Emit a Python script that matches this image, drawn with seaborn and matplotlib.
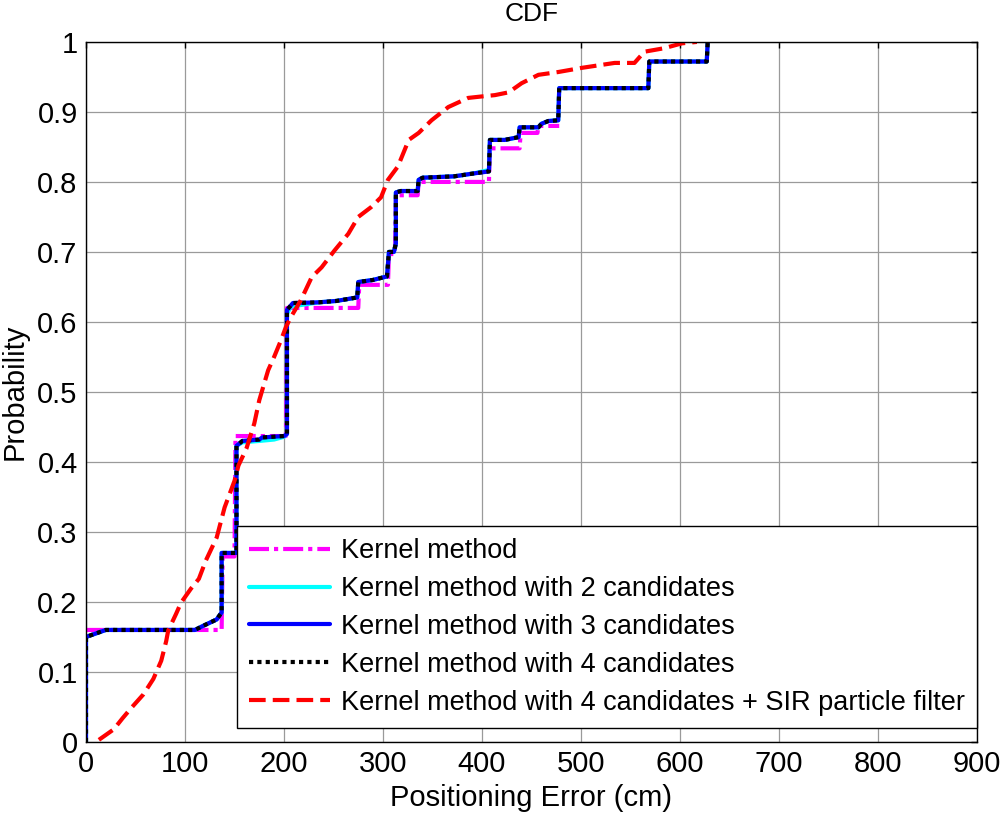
import numpy as np
import pandas as pd
import matplotlib
matplotlib.use("Agg")
import matplotlib.pyplot as plt
import seaborn as sns

# CDF vertices (error in cm, probability)
kernel_x = [0, 137, 138, 150, 151, 202, 203, 275, 276, 305, 306, 312, 313, 335, 336,
            407, 408, 438, 439, 456, 457, 478]
kernel_y = [0.16, 0.16, 0.265, 0.265, 0.437, 0.437, 0.62, 0.62, 0.653, 0.653, 0.697,
            0.697, 0.781, 0.781, 0.80, 0.80, 0.848, 0.848, 0.87, 0.87, 0.88, 0.88]

k3_x = [0, 0, 8, 20, 110, 120, 132, 137, 137, 152, 152, 158, 175, 178, 200, 203, 203,
        209, 235, 253, 274, 275, 290, 304, 306, 311, 313, 313, 318, 335, 336, 340, 372,
        391, 407, 408, 423, 437, 438, 457, 460, 467, 477, 478, 568, 569, 627, 628]
k3_y = [0, 0.15, 0.154, 0.16, 0.16, 0.167, 0.175, 0.185, 0.27, 0.27, 0.423, 0.43, 0.432,
        0.435, 0.437, 0.44, 0.617, 0.627, 0.628, 0.63, 0.635, 0.657, 0.66, 0.665, 0.70,
        0.70, 0.712, 0.785, 0.787, 0.787, 0.803, 0.806, 0.808, 0.812, 0.815, 0.86, 0.86,
        0.864, 0.878, 0.878, 0.883, 0.887, 0.888, 0.934, 0.934, 0.972, 0.972, 1.0]

k2_x = [0, 0, 8, 20, 110, 120, 132, 137, 137, 152, 152, 158, 175, 190, 200, 203, 203,
        207, 235, 253, 274, 275, 290, 304, 306, 311, 313, 313, 318, 335, 336, 340, 372,
        391, 407, 408, 423, 437, 438, 457, 460, 467, 477, 478, 568, 569, 627, 628]
k2_y = [0, 0.15, 0.154, 0.16, 0.16, 0.167, 0.175, 0.185, 0.27, 0.27, 0.423, 0.428, 0.43,
        0.432, 0.436, 0.44, 0.612, 0.622, 0.628, 0.63, 0.635, 0.657, 0.66, 0.665, 0.70,
        0.70, 0.712, 0.785, 0.787, 0.787, 0.803, 0.806, 0.808, 0.812, 0.817, 0.86, 0.86,
        0.864, 0.878, 0.878, 0.883, 0.887, 0.888, 0.934, 0.934, 0.972, 0.972, 1.0]

k4_x = k3_x
k4_y = k3_y

sir_x = [13, 28, 37, 46, 58, 68, 76, 81, 83, 91, 96, 106, 114, 121, 132, 140, 150, 154,
         162, 170, 175, 180, 184, 190, 197, 202, 207, 217, 228, 238, 251, 265, 275, 288,
         298, 305, 315, 326, 336, 349, 366, 386, 399, 413, 427, 440, 457, 477, 501, 534,
         554, 564, 584, 602, 617]
sir_y = [0.003, 0.018, 0.034, 0.049, 0.068, 0.09, 0.116, 0.144, 0.159, 0.183, 0.199,
         0.219, 0.233, 0.259, 0.292, 0.335, 0.373, 0.395, 0.419, 0.455, 0.488, 0.512,
         0.531, 0.55, 0.574, 0.593, 0.607, 0.631, 0.664, 0.678, 0.702, 0.726, 0.75,
         0.764, 0.778, 0.803, 0.822, 0.86, 0.87, 0.888, 0.907, 0.92, 0.922, 0.924,
         0.928, 0.941, 0.953, 0.957, 0.963, 0.97, 0.97, 0.986, 0.991, 0.998, 1.0]

labels = ["Kernel method",
          "Kernel method with 2 candidates",
          "Kernel method with 3 candidates",
          "Kernel method with 4 candidates",
          "Kernel method with 4 candidates + SIR particle filter"]

sns.set_style("white")
plt.rcParams['font.family'] = ['Liberation Sans', 'DejaVu Sans']
plt.rcParams['text.color'] = 'black'
plt.rcParams['axes.labelcolor'] = 'black'
plt.rcParams['xtick.color'] = 'black'
plt.rcParams['ytick.color'] = 'black'

fig = plt.figure(figsize=(10, 8.14), dpi=100)
ax = fig.add_axes([0.086, 0.0885, 0.891, 0.86])

lw = 3
series = [
    (kernel_x, kernel_y, "#ff00ff", (0, (4.8, 1.2, 1, 1.2))),
    (k2_x, k2_y, "#00ffff", "-"),
    (k3_x, k3_y, "#0000ff", "-"),
    (k4_x, k4_y, "#000000", (0, (1, 1))),
    (sir_x, sir_y, "#ff0000", (0, (4, 1.7))),
]
for (xs, ys, col, ls), lab in zip(series, labels):
    df = pd.DataFrame({"x": xs, "y": ys})
    sns.lineplot(data=df, x="x", y="y", sort=False, estimator=None, color=col,
                 linestyle=ls, linewidth=lw, label=lab, ax=ax)

ax.set_xlim(0, 900)
ax.set_ylim(0, 1)
ax.set_xticks(np.arange(0, 901, 100))
ax.set_yticks(np.arange(0, 1.01, 0.1))
ax.set_yticklabels(["0", "0.1", "0.2", "0.3", "0.4", "0.5", "0.6", "0.7", "0.8", "0.9", "1"])
ax.tick_params(direction="in", length=4, width=1, top=True, right=True,
               labelsize=21, pad=6, colors="black")
ax.grid(True, color="#9a9a9a", linewidth=0.9)
for sp in ax.spines.values():
    sp.set_color("black")
    sp.set_linewidth(1)

ax.set_xlabel("Positioning Error (cm)", fontsize=21, labelpad=4)
ax.set_ylabel("Probability", fontsize=21, labelpad=6)
ax.set_title("CDF", fontsize=19, pad=15)

leg = ax.legend(loc="lower right", bbox_to_anchor=(1.0, 0.02), borderaxespad=0,
                fontsize=19.5, frameon=True, fancybox=False, framealpha=1,
                edgecolor="black", handlelength=3.0, handletextpad=0.4,
                labelspacing=0.44, borderpad=0.45)
leg.get_frame().set_linewidth(1)

fig.savefig("out.png", dpi=100)
